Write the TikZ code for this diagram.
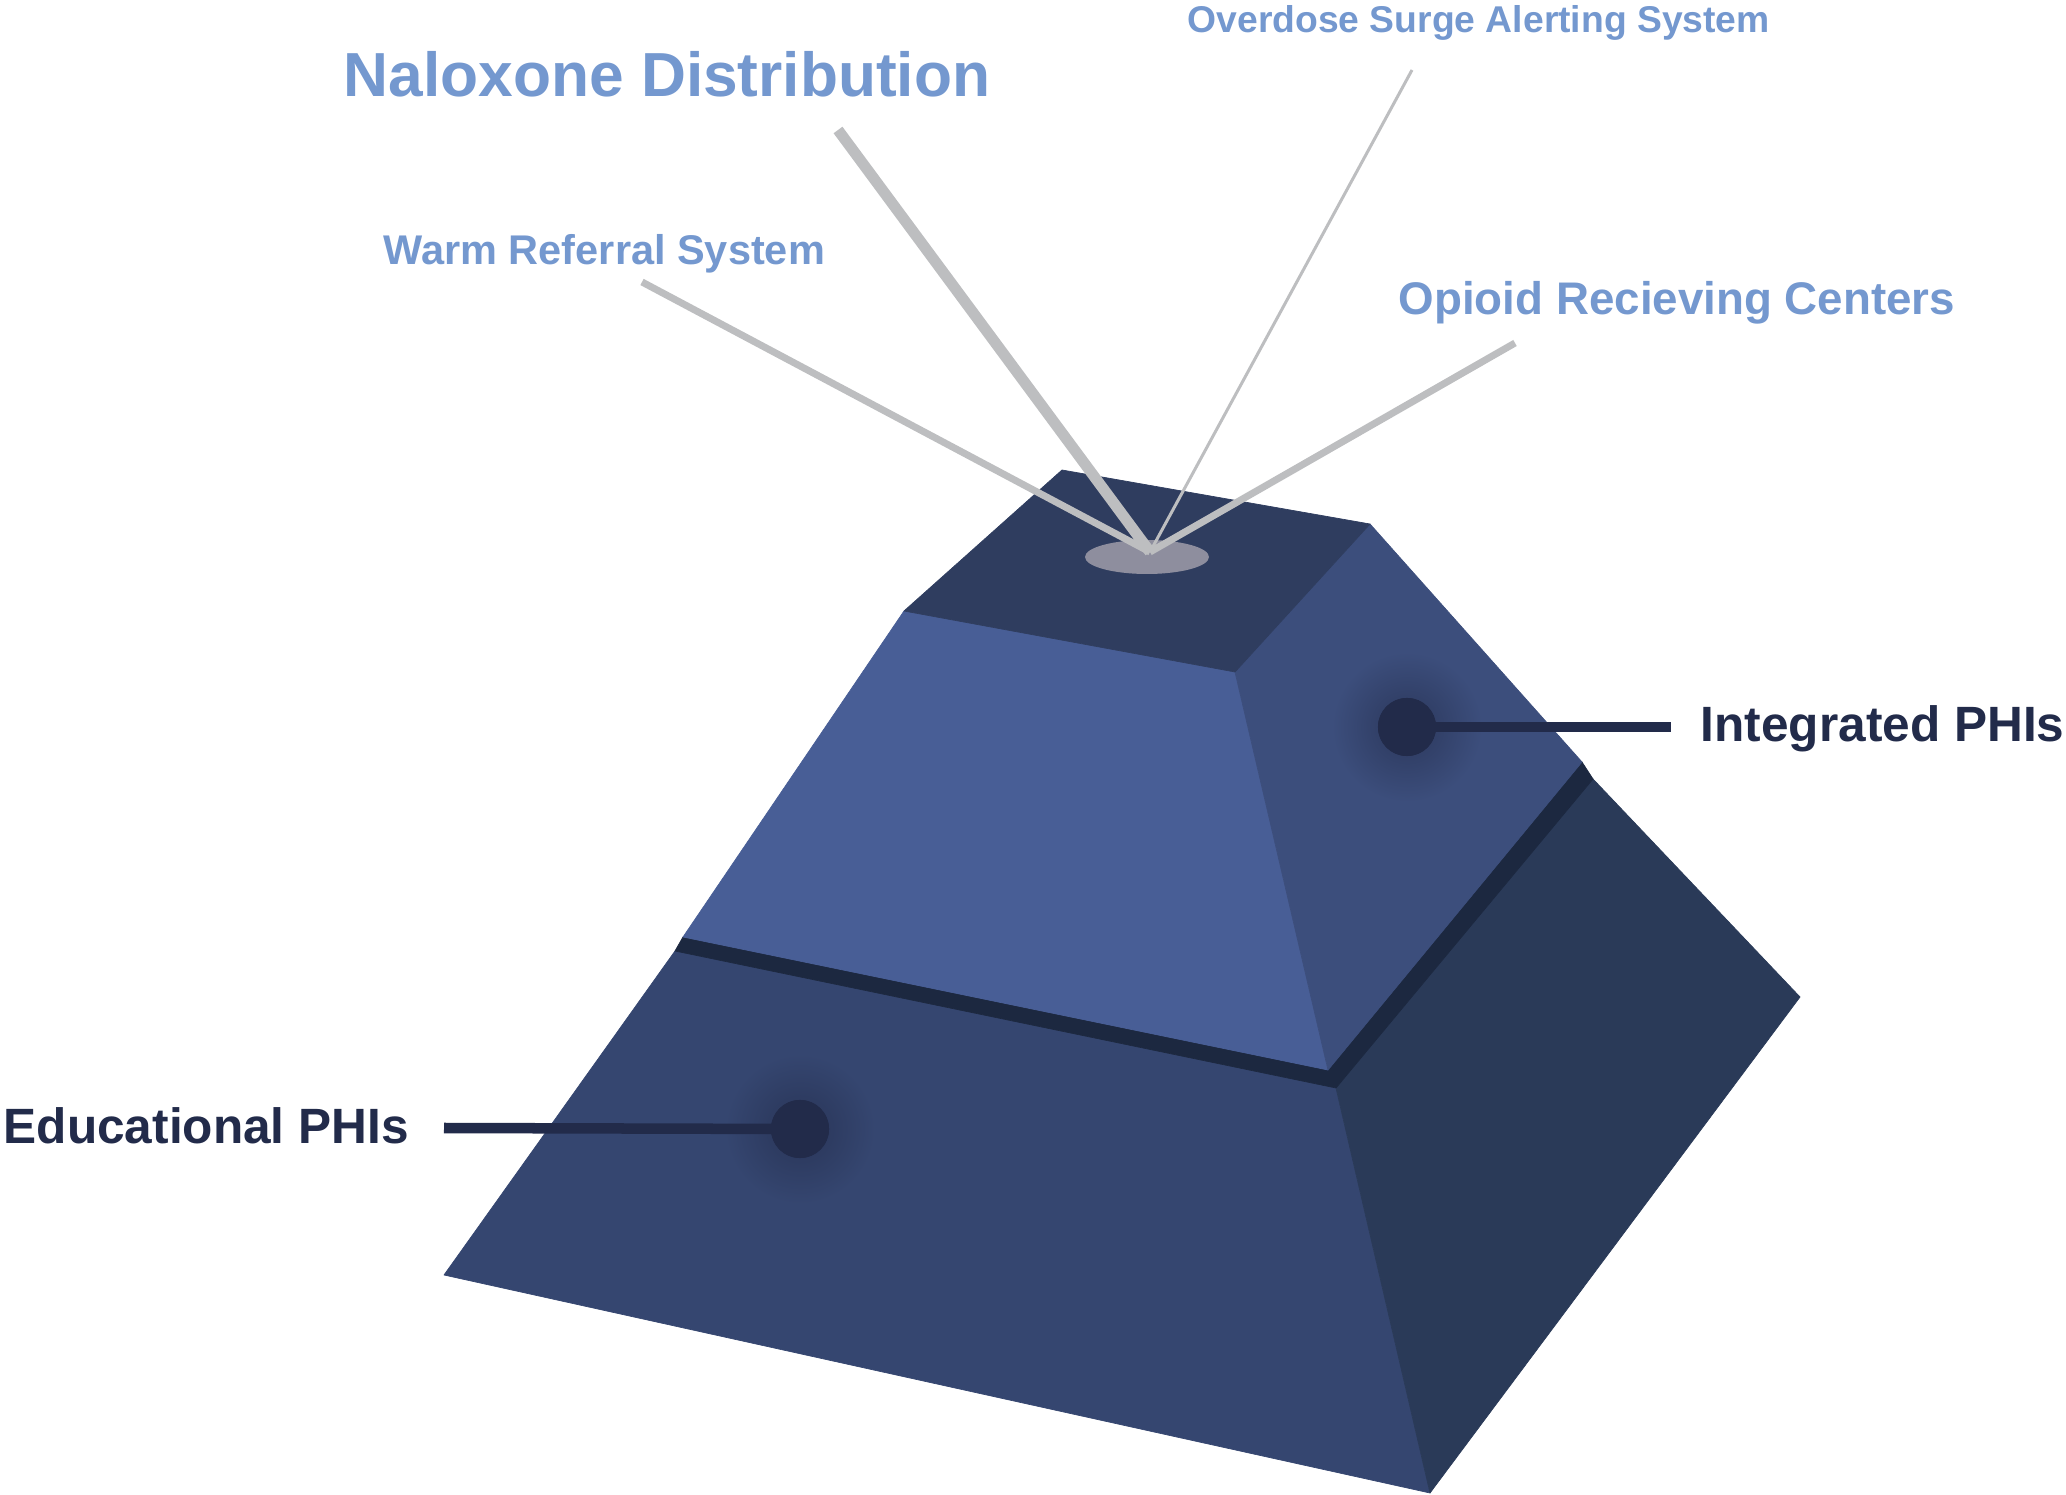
\documentclass[tikz,border=0pt]{standalone}
\usepackage{fontspec}
\setmainfont{Liberation Sans}
\definecolor{topface}{RGB}{47,61,95}
\definecolor{upfront}{RGB}{72,94,150}
\definecolor{upright}{RGB}{60,78,124}
\definecolor{lowfront}{RGB}{53,70,112}
\definecolor{lowright}{RGB}{42,58,88}
\definecolor{bandcol}{RGB}{28,40,64}
\definecolor{holecol}{RGB}{142,142,158}
\definecolor{raygray}{RGB}{189,190,192}
\definecolor{txtblue}{RGB}{116,152,207}
\definecolor{darknavy}{RGB}{34,43,74}
\begin{document}
\begin{tikzpicture}[x=0.01cm,y=-0.01cm,
  facefill/.style={fill=#1, draw=#1, line width=0.2pt, line join=round},
  ray/.style={draw=raygray},
  bluelbl/.style={inner sep=0pt, anchor=base west, font=\bfseries, text=txtblue},
  darklbl/.style={inner sep=0pt, anchor=base west, font=\bfseries\fontsize{14.1pt}{16pt}\selectfont, text=darknavy},
  dotnode/.style={circle, fill=darknavy, minimum size=5.8mm, inner sep=0pt},
  leader/.style={draw=darknavy, line width=1.05mm}]
\useasboundingbox (0,0) rectangle (2066,1495);
% vertices
\coordinate (TBL) at (1062,470);
\coordinate (TBR) at (1370,524);
\coordinate (TFR) at (1235,672);
\coordinate (TFL) at (904,611);
\coordinate (UBL) at (683,937);
\coordinate (UBR) at (1328,1070);
\coordinate (URR) at (1582,762);
\coordinate (LFTL) at (675,951);
\coordinate (LFTR) at (1336,1088);
\coordinate (LFBR) at (1430,1493);
\coordinate (LFBL) at (444,1275);
\coordinate (LRTB) at (1593,779);
\coordinate (LRBB) at (1800,997);
% lower frustum
\path[facefill=lowfront] (LFTL) -- (LFTR) -- (LFBR) -- (LFBL) -- cycle;
\path[facefill=lowright] (LFTR) -- (LRTB) -- (LRBB) -- (LFBR) -- cycle;
% band
\path[facefill=bandcol] (UBL) -- (UBR) -- (URR) -- (LRTB) -- (LFTR) -- (LFTL) -- cycle;
% upper frustum
\path[facefill=upfront] (TFL) -- (TFR) -- (UBR) -- (UBL) -- cycle;
\path[facefill=upright] (TFR) -- (TBR) -- (URR) -- (UBR) -- cycle;
\path[facefill=topface] (TBL) -- (TBR) -- (TFR) -- (TFL) -- cycle;
% hole
\fill[holecol] (1147,557) ellipse (62 and 17);
% rays
\coordinate (hub) at (1150,552);
\coordinate (nalEnd) at (838,130);
\coordinate (warmEnd) at (642,282);
\coordinate (odEnd) at (1412,70);
\coordinate (opEnd) at (1515,343);
\draw[ray, line width=0.7mm] (warmEnd) -- (hub);
\draw[ray, line width=0.7mm] (opEnd) -- (hub);
\draw[ray, line width=0.3mm] (odEnd) -- (hub);
\draw[ray, line width=1.1mm] (nalEnd) -- (hub);
% glows
\shade[inner color=darknavy!65!upright, outer color=upright] (1407,727) circle (75);
\shade[inner color=darknavy!65!lowfront, outer color=lowfront] (800,1129) circle (75);
% leaders and dots
\coordinate (intEnd) at (1671,727);
\coordinate (eduEnd) at (444,1128);
\node[dotnode] (intDot) at (1407,727) {};
\node[dotnode] (eduDot) at (800,1129) {};
\draw[leader] (intDot.center) -- (intEnd);
\draw[leader] (eduEnd) -- (eduDot.center);
\node[dotnode] at (intDot) {};
\node[dotnode] at (eduDot) {};
% labels
\node[bluelbl, font=\bfseries\fontsize{17.7pt}{20pt}\selectfont] (nal) at (343,97) {Naloxone Distribution};
\node[bluelbl, font=\bfseries\fontsize{11.8pt}{14pt}\selectfont] (warm) at (383,265) {Warm Referral System};
\node[bluelbl, font=\bfseries\fontsize{10.6pt}{13pt}\selectfont] (od) at (1187,33) {Overdose Surge Alerting System};
\node[bluelbl, font=\bfseries\fontsize{13pt}{15pt}\selectfont] (op) at (1398,315) {Opioid Recieving Centers};
\node[darklbl] (intl) at (1700,742) {Integrated PHIs};
\node[darklbl] (edul) at (3,1144) {Educational PHIs};
\end{tikzpicture}
\end{document}
